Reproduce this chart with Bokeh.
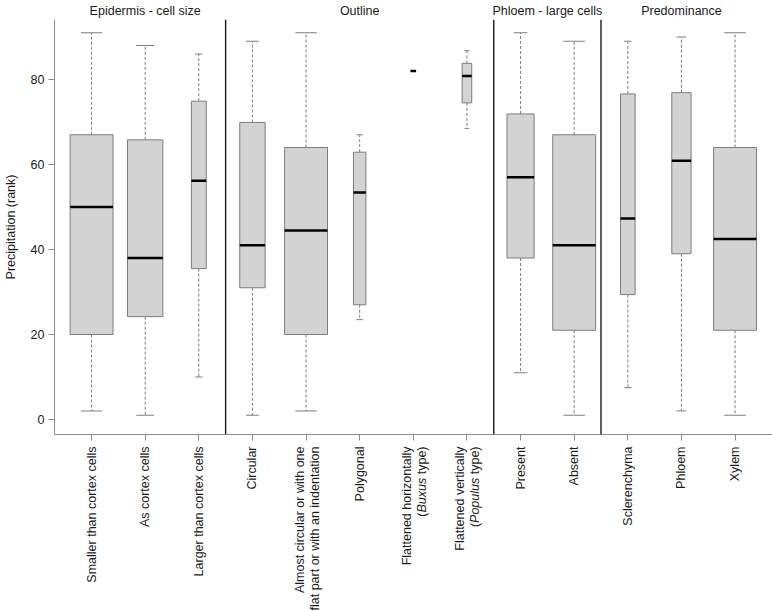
import math
from bokeh.plotting import figure
from bokeh.models import Range1d, FixedTicker, Span
from bokeh.layouts import column
from bokeh.core.properties import value
from bokeh.embed import file_html
from bokeh.resources import INLINE

# ---------------- data ----------------
categories = [
    "Smaller than cortex cells",
    "As cortex cells",
    "Larger than cortex cells",
    "Circular",
    "Almost circular or with one\nflat part or with an indentation",
    "Polygonal",
    "Flattened horizontally\n(*Buxus* type)",
    "Flattened vertically\n(*Populus* type)",
    "Present",
    "Absent",
    "Sclerenchyma",
    "Phloem",
    "Xylem",
]
groups = [0, 0, 0, 1, 1, 1, 1, 1, 2, 2, 3, 3, 3]
group_titles = ["Epidermis - cell size", "Outline", "Phloem - large cells", "Predominance"]
n_obs = [50, 34, 6, 21, 60, 5, 1, 3, 26, 65, 8, 14, 69]

whisker_low = [2, 1, 10, 1, 2, 23.5, 82, 68.5, 11, 1, 7.5, 2, 1]
q1 = [20, 24.2, 35.5, 31, 20, 27, 82, 74.5, 38, 21, 29.4, 39, 21]
median = [50, 38, 56.2, 41, 44.5, 53.4, 82, 80.8, 57, 41, 47.3, 60.9, 42.5]
q3 = [67, 65.8, 74.9, 69.9, 64, 62.9, 82, 83.8, 71.9, 67, 76.6, 76.9, 64]
whisker_high = [91, 88, 86, 89, 91, 67, 82, 86.8, 91, 89, 89, 90, 91]

y_ticks = [0, 20, 40, 60, 80]
y_title = "Precipitation (rank)"

# ---------------- layout helpers ----------------
FONT = "Liberation Sans"
TXT = "#1a1a1a"
GRAY = "#7d7d7d"
FS = "12.5px"
LSIZE = 12.5
ADV = {"(": 333, ")": 333, " ": 278, "t": 278, "y": 500, "p": 556, "e": 556,
       "B": 667, "u": 556, "x": 500, "s": 500, "P": 667, "o": 556, "l": 222}


def text_width(s, size):
    return sum(ADV.get(c, 556) for c in s) / 1000.0 * size


W = 772
TOP_H, MAIN_H, LAB_H = 19, 427, 165
x_range = Range1d(0.309, 13.698)

xs = list(range(1, len(categories) + 1))
gmax = {}
for g, n in zip(groups, n_obs):
    gmax[g] = max(gmax.get(g, 0), n)
widths = [0.8 * math.sqrt(n / gmax[g]) for g, n in zip(groups, n_obs)]
left = [x - w / 2 for x, w in zip(xs, widths)]
right = [x + w / 2 for x, w in zip(xs, widths)]
cap_l = [x - w / 4 for x, w in zip(xs, widths)]
cap_r = [x + w / 4 for x, w in zip(xs, widths)]


def base_fig(height, y_range, **kw):
    f = figure(width=W, height=height, x_range=x_range, y_range=y_range,
               output_backend="svg", toolbar_location=None,
               min_border_left=49, min_border_right=0, **kw)
    f.grid.visible = False
    f.outline_line_color = None
    f.background_fill_color = "white"
    f.border_fill_color = "white"
    return f


# ---------------- group titles strip ----------------
top = base_fig(TOP_H, Range1d(TOP_H, 0), min_border_top=0, min_border_bottom=0,
               x_axis_location=None, y_axis_location=None)
tx = []
for gi in range(len(group_titles)):
    members = [x for x, g in zip(xs, groups) if g == gi]
    tx.append((min(members) + max(members)) / 2)
top.text(x=tx, y=[10.5] * len(tx), text=group_titles, text_align="center",
         text_baseline="alphabetic", text_font=value(FONT), text_font_size=value(FS),
         text_color=TXT)

# ---------------- main boxplot ----------------
p = base_fig(MAIN_H, Range1d(-3.53, 94.12), min_border_top=0, min_border_bottom=12)

bounds = [i + 1.5 for i in range(len(groups) - 1) if groups[i] != groups[i + 1]]
for b in bounds:
    p.add_layout(Span(location=b, dimension="height", line_color="#1a1a1a", line_width=1.4))

p.segment(x0=xs, y0=q3, x1=xs, y1=whisker_high, line_color=GRAY, line_width=1, line_dash="3 2")
p.segment(x0=xs, y0=q1, x1=xs, y1=whisker_low, line_color=GRAY, line_width=1, line_dash="3 2")
p.segment(x0=cap_l, y0=whisker_high, x1=cap_r, y1=whisker_high, line_color=GRAY, line_width=1)
p.segment(x0=cap_l, y0=whisker_low, x1=cap_r, y1=whisker_low, line_color=GRAY, line_width=1)
p.quad(left=left, right=right, bottom=q1, top=q3, fill_color="#d3d3d3",
       line_color=GRAY, line_width=1)
p.segment(x0=left, y0=median, x1=right, y1=median, line_color="black", line_width=2.5)

for ax in (p.xaxis[0], p.yaxis[0]):
    ax.axis_line_color = "#8a8a8a"
    ax.major_tick_line_color = "#8a8a8a"
    ax.minor_tick_line_color = None
    ax.major_tick_in = 0
    ax.major_tick_out = 6
p.yaxis.ticker = FixedTicker(ticks=y_ticks)
p.yaxis.major_label_text_font = FONT
p.yaxis.major_label_text_font_size = FS
p.yaxis.major_label_text_color = TXT
p.yaxis.major_label_standoff = 4
p.yaxis.axis_label = y_title
p.yaxis.axis_label_text_font = FONT
p.yaxis.axis_label_text_font_size = FS
p.yaxis.axis_label_text_font_style = "normal"
p.yaxis.axis_label_text_color = TXT
p.yaxis.axis_label_standoff = 10
p.xaxis.ticker = FixedTicker(ticks=xs)
p.xaxis.major_label_overrides = {x: "" for x in xs}
p.xaxis.major_label_text_font_size = "0px"
p.xaxis.major_label_standoff = 0

# ---------------- category labels strip ----------------
lab = base_fig(LAB_H, Range1d(LAB_H, 0), min_border_top=0, min_border_bottom=0,
               x_axis_location=None, y_axis_location=None)
SPACE = ADV[" "] / 1000.0 * LSIZE
for x, cat in zip(xs, categories):
    lines = cat.split("\n")
    k = len(lines)
    for li, line in enumerate(lines):
        dx = (li - (k - 1) / 2) * 15 + (1 if k > 1 else 0)
        parts = line.split("*")
        down = 0.0
        for pi_ in range(len(parts) - 1, -1, -1):
            seg = parts[pi_]
            if not seg:
                continue
            core = seg.rstrip(" ")
            down += SPACE * (len(seg) - len(core))
            lead = len(core) - len(core.lstrip(" "))
            core = core.strip(" ")
            lab.text(x=[x], y=[down], text=[core], x_offset=dx, angle=math.pi / 2,
                     text_align="right", text_baseline="middle",
                     text_font=value(FONT), text_font_size=value(FS),
                     text_font_style="italic" if pi_ % 2 == 1 else "normal",
                     text_color=TXT)
            down += text_width(core, LSIZE) + SPACE * lead

layout = column(top, p, lab, spacing=0)
open("out.html", "w").write(file_html(layout, INLINE))
